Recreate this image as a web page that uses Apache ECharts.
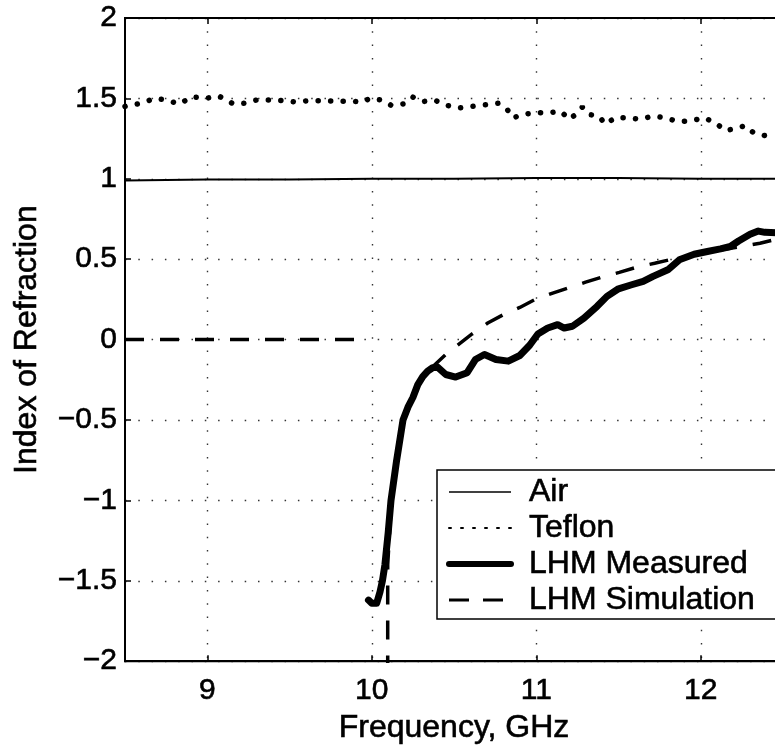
<!DOCTYPE html>
<html>
<head>
<meta charset="utf-8">
<script src="https://cdn.jsdelivr.net/npm/echarts@6/dist/echarts.min.js"></script>
<style>
html,body{margin:0;padding:0;background:#fff;overflow:hidden;width:775px;height:749px;}
#chart{width:783px;height:749px;}
</style>
</head>
<body>
<div id="chart"></div>
<script>
// ---- data ----
const xTicks = [9, 10, 11, 12];

const airX = [8.5, 9.0, 9.5, 10.0, 10.5, 11.0, 11.5, 12.0, 12.5];
const airY = [0.99, 0.995, 0.995, 1.0, 1.0, 1.005, 1.005, 1.0, 1.0];

const teflonX = [8.5, 8.52, 8.60, 8.68, 8.75, 8.83, 8.905, 8.99, 9.07, 9.16, 9.23, 9.30, 9.38, 9.46, 9.54, 9.61, 9.69, 9.79, 9.87, 9.95, 9.985, 10.06, 10.12, 10.20, 10.25, 10.31, 10.38, 10.46, 10.53, 10.61, 10.69, 10.77, 10.82, 10.86, 10.91, 10.99, 11.07, 11.15, 11.20, 11.24, 11.28, 11.32, 11.38, 11.42, 11.48, 11.56, 11.63, 11.71, 11.78, 11.86, 11.94, 12.02, 12.09, 12.15, 12.20, 12.27, 12.32, 12.40, 12.46];
const teflonY = [1.45, 1.456, 1.47, 1.50, 1.49, 1.465, 1.51, 1.50, 1.515, 1.465, 1.47, 1.49, 1.49, 1.487, 1.477, 1.485, 1.485, 1.483, 1.483, 1.477, 1.50, 1.49, 1.456, 1.467, 1.508, 1.48, 1.49, 1.456, 1.44, 1.45, 1.46, 1.47, 1.436, 1.378, 1.40, 1.41, 1.41, 1.42, 1.37, 1.40, 1.446, 1.40, 1.39, 1.34, 1.38, 1.38, 1.37, 1.39, 1.38, 1.357, 1.36, 1.38, 1.347, 1.30, 1.31, 1.33, 1.287, 1.266, 1.26];

const measX = [9.98, 10.0, 10.03, 10.05, 10.065, 10.08, 10.10, 10.117, 10.15, 10.19, 10.22, 10.25, 10.28, 10.31, 10.34, 10.37, 10.40, 10.45, 10.51, 10.58, 10.63, 10.685, 10.755, 10.83, 10.90, 10.96, 11.01, 11.07, 11.13, 11.17, 11.22, 11.29, 11.37, 11.43, 11.50, 11.58, 11.65, 11.71, 11.80, 11.87, 11.96, 12.04, 12.12, 12.18, 12.23, 12.30, 12.35, 12.39, 12.46];
const measY = [-1.62, -1.64, -1.64, -1.57, -1.50, -1.40, -1.20, -1.0, -0.76, -0.50, -0.42, -0.36, -0.28, -0.23, -0.196, -0.175, -0.171, -0.217, -0.233, -0.206, -0.124, -0.093, -0.124, -0.134, -0.099, -0.035, 0.035, 0.072, 0.093, 0.072, 0.083, 0.134, 0.207, 0.269, 0.316, 0.341, 0.362, 0.393, 0.434, 0.496, 0.531, 0.548, 0.564, 0.579, 0.613, 0.655, 0.675, 0.667, 0.665];

// null marks the break between the zero branch and the resonance branch
const simX = [8.5, 9.96, 10.0, 10.097, 10.097, 10.12, 10.19, 10.25, 10.30, 10.38, 10.46, 10.61, 10.705, 10.80, 10.90, 10.99, 11.10, 11.19, 11.30, 11.39, 11.505, 11.607, 11.72, 11.81, 11.95, 12.10, 12.25, 12.36, 12.46];
const simY = [0, 0, null, -2.3, -1.40, -1.0, -0.5, -0.34, -0.26, -0.16, -0.083, 0.035, 0.103, 0.155, 0.20, 0.248, 0.289, 0.32, 0.357, 0.386, 0.418, 0.449, 0.475, 0.496, 0.525, 0.555, 0.58, 0.599, 0.624];

const seriesNames = ['Air', 'Teflon', 'LHM Measured', 'LHM Simulation'];

function pairs(xs, ys) { return xs.map((x, i) => [x, ys[i]]); }
const FONT = 'Liberation Sans, Arial, Helvetica, sans-serif';
const minus = v => String(v).replace('-', '\u2212');
const ink = {textBorderColor: '#000', textBorderWidth: 0.6};

const chart = echarts.init(document.getElementById('chart'), null, {renderer: 'canvas'});
const gridDots = {show: true, lineStyle: {color: '#333', width: 1.4, type: [1.5, 11.8]}};

chart.setOption({
  backgroundColor: '#fff',
  animation: false,
  grid: {left: 125, top: 18, right: 0, bottom: 84, show: true, borderColor: '#000', borderWidth: 2, backgroundColor: 'transparent'},
  legend: {
    left: 437, top: 470, orient: 'vertical',
    padding: [4, 40, 1, 9],
    itemWidth: 62, itemHeight: 6, itemGap: 0,
    backgroundColor: '#fff', borderColor: '#000', borderWidth: 1.5, borderRadius: 0,
    textStyle: Object.assign({fontFamily: FONT, fontSize: 32, color: '#000', lineHeight: 36, padding: [0, 0, 0, 13]}, ink),
    itemStyle: {color: 'rgba(0,0,0,0)', borderWidth: 0},
    data: [
      {name: seriesNames[0], lineStyle: {width: 1.5, type: 'solid', color: '#000'}},
      {name: seriesNames[1], lineStyle: {width: 2, type: [2, 10], color: '#000'}},
      {name: seriesNames[2], lineStyle: {width: 6, type: 'solid', color: '#000'}},
      {name: seriesNames[3], lineStyle: {width: 3, type: [20, 14], color: '#000'}}
    ]
  },
  xAxis: [{
    type: 'value', min: 8.5, max: 12.5, position: 'bottom',
    name: 'Frequency, GHz', nameLocation: 'middle', nameGap: 50,
    nameTextStyle: Object.assign({fontFamily: FONT, fontSize: 32, color: '#000'}, ink),
    axisLine: {show: true, onZero: false, lineStyle: {color: '#000', width: 2}},
    axisTick: {show: true, inside: true, length: 6, customValues: xTicks, lineStyle: {color: '#000', width: 1.5}},
    axisLabel: Object.assign({show: true, customValues: xTicks, margin: 15, fontFamily: FONT, fontSize: 30, color: '#000'}, ink),
    splitLine: gridDots
  }, {
    type: 'value', min: 8.5, max: 12.5, position: 'top',
    axisLine: {show: true, onZero: false, lineStyle: {color: '#000', width: 2}},
    axisTick: {show: true, inside: true, length: 6, customValues: xTicks, lineStyle: {color: '#000', width: 1.5}},
    axisLabel: {show: false, customValues: xTicks},
    splitLine: {show: false}
  }],
  yAxis: {
    type: 'value', min: -2, max: 2, interval: 0.5,
    name: 'Index of Refraction', nameLocation: 'middle', nameGap: 82,
    nameTextStyle: Object.assign({fontFamily: FONT, fontSize: 32, color: '#000'}, ink),
    axisLine: {show: true, onZero: false, lineStyle: {color: '#000', width: 2}},
    axisTick: {show: true, inside: true, length: 6, lineStyle: {color: '#000', width: 1.5}},
    axisLabel: Object.assign({margin: 8, fontFamily: FONT, fontSize: 30, color: '#000', formatter: minus}, ink),
    splitLine: gridDots
  },
  series: [
    {name: seriesNames[0], type: 'line', symbol: 'none', z: 3,
     data: pairs(airX, airY), lineStyle: {color: '#000', width: 2}},
    {name: seriesNames[1], type: 'line', symbol: 'none', z: 3,
     data: pairs(teflonX, teflonY), lineStyle: {color: '#000', width: 5.5, type: [0.1, 12.4], cap: 'round'}},
    {name: seriesNames[3], type: 'line', symbol: 'none', z: 3, connectNulls: false,
     data: pairs(simX, simY), lineStyle: {color: '#000', width: 3.5, type: [19, 16]}},
    {name: seriesNames[2], type: 'line', symbol: 'none', z: 4,
     data: pairs(measX, measY), lineStyle: {color: '#000', width: 7, join: 'round', cap: 'round'}}
  ]
});
</script>
</body>
</html>
